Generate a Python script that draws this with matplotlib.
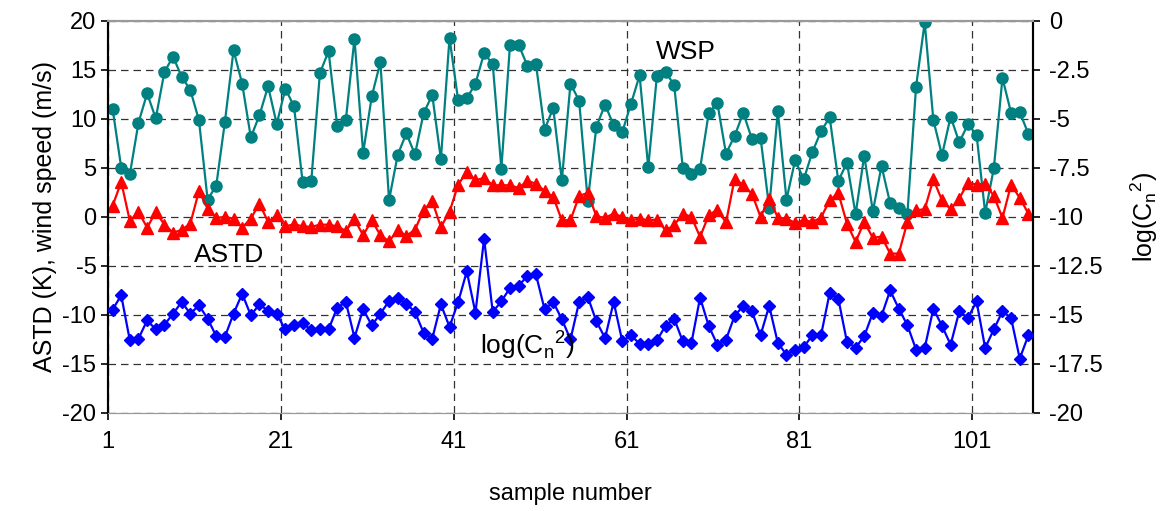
import matplotlib
matplotlib.use("Agg")
import matplotlib.pyplot as plt
import numpy as np

plt.rcParams['font.family'] = ['Liberation Sans', 'DejaVu Sans']

# sample numbers 1..107
samples = list(range(1, 108))

wsp = [11.05, 5.03, 4.35, 9.62, 12.6, 10.06, 14.8, 16.36, 14.3, 12.95,
       9.86, 1.77, 3.19, 9.69, 17.0, 13.6, 8.12, 10.37, 13.33, 9.49,
       13.09, 11.29, 3.53, 3.7, 14.69, 16.9, 9.32, 9.9, 18.2, 6.53,
       12.3, 15.8, 1.7, 6.32, 8.53, 6.38, 10.58, 12.45, 5.88, 18.27,
       11.9, 12.1, 13.6, 16.7, 15.6, 4.93, 17.58, 17.58, 15.44, 15.64,
       8.9, 11.12, 3.74, 13.6, 11.87, 1.63, 9.21, 11.46, 9.35, 8.67,
       11.53, 14.45, 5.06, 14.35, 14.8, 13.47, 5.03, 4.42, 4.93, 10.6,
       11.63, 6.46, 8.27, 10.61, 7.96, 8.09, 0.92, 10.78, 1.77, 5.78,
       3.84, 6.63, 8.74, 10.17, 3.67, 5.54, 0.27, 6.26, 0.57, 5.2,
       1.39, 0.95, 0.34, 13.3, 19.86, 9.9, 6.29, 10.23, 7.61, 9.45,
       8.4, 0.41, 4.96, 14.18, 10.61, 10.71, 8.47]

astd = [1.12, 3.57, -0.41, 0.51, -1.09, 0.51, -0.79, -1.6, -1.33, -0.68,
        2.65, 0.85, -0.1, 0.0, -0.17, -1.09, -0.17, 1.36, -0.51, 0.17,
        -0.96, -0.75, -0.96, -1.02, -0.79, -0.79, -0.96, -1.43, -0.24, -1.87,
        -0.34, -1.87, -2.49, -1.36, -1.94, -1.3, 0.68, 1.6, -1.02, 0.51,
        3.3, 4.59, 3.74, 3.98, 3.23, 3.23, 3.23, 2.96, 3.67, 3.4,
        2.65, 2.04, -0.34, -0.34, 2.14, 2.45, 0.07, -0.1, 0.34, 0.0,
        -0.34, -0.17, -0.34, -0.27, -1.36, -0.85, 0.34, 0.0, -2.04, 0.17,
        0.75, -0.56, 3.91, 3.23, 2.38, 0.0, 1.87, -0.07, -0.17, -0.61,
        -0.34, -0.51, -0.07, 1.7, 2.45, -0.68, -2.55, -0.51, -2.14, -2.0,
        -3.74, -3.74, -0.51, 0.68, 0.78, 3.84, 1.7, 0.78, 1.87, 3.5,
        3.3, 3.4, 2.14, -0.1, 3.3, 1.94, 0.34]

log_cn2 = [-14.73, -14.0, -16.3, -16.21, -15.28, -15.74, -15.5, -14.94, -14.34, -14.94,
           -14.51, -15.19, -16.09, -16.12, -14.94, -13.92, -15.02, -14.46, -14.8, -14.97,
           -15.74, -15.53, -15.4, -15.79, -15.7, -15.74, -14.63, -14.34, -16.16, -14.71,
           -15.53, -14.94, -14.29, -14.14, -14.43, -14.85, -15.91, -16.21, -14.46, -15.61,
           -14.34, -12.78, -14.89, -11.11, -14.85, -14.31, -13.62, -13.52, -13.01, -12.93,
           -14.71, -14.34, -15.22, -16.25, -14.34, -14.08, -15.33, -16.18, -14.34, -16.35,
           -16.04, -16.47, -16.47, -16.3, -15.56, -15.19, -16.35, -16.43, -14.12, -15.56,
           -16.52, -16.26, -15.05, -14.54, -14.82, -16.04, -14.54, -16.43, -17.03, -16.77,
           -16.64, -16.04, -16.04, -13.88, -14.17, -16.38, -16.67, -16.09, -14.89, -15.05,
           -13.75, -14.68, -15.53, -16.77, -16.69, -14.68, -15.56, -16.52, -14.82, -15.16,
           -14.31, -16.69, -15.74, -14.82, -15.16, -17.23, -16.04]

xtick_labels = ['1', '21', '41', '61', '81', '101']
left_ticks = [20, 15, 10, 5, 0, -5, -10, -15, -20]
right_ticks = [0, -2.5, -5, -7.5, -10, -12.5, -15, -17.5, -20]

fig = plt.figure(figsize=(11.64, 5.11), dpi=100)
ax = fig.add_axes([0.093, 0.192, 0.7942, 0.767])
ax2 = ax.twinx()

teal = '#008080'
ax.plot(samples, wsp, color=teal, lw=1.6, marker='o', ms=8, zorder=3)
ax.plot(samples, astd, color='#FF0000', lw=1.6, marker='^', ms=8.5, zorder=3)
ax2.plot(samples, log_cn2, color='#0000FF', lw=1.6, marker='D', ms=6.5, zorder=3)

ax.set_xlim(0.5, 107.5)
ax.set_ylim(-20, 20)
ax2.set_ylim(-20, 0)

xt = [0.5, 20.5, 40.5, 60.5, 80.5, 100.5]
ax.set_xticks(xt)
ax.set_xticklabels(xtick_labels)
ax.set_yticks(left_ticks)
ax.set_yticklabels([str(t) for t in left_ticks])
ax2.set_yticks(right_ticks)
ax2.set_yticklabels([('%g' % t) for t in right_ticks])

ax.grid(True, color='#333333', linestyle=(0, (6, 4)), linewidth=0.9)
ax.set_axisbelow(True)

fs = 17
ax.tick_params(axis='both', labelsize=fs, direction='out', length=5, width=1.2, color='black')
ax.tick_params(axis='x', pad=8)
ax2.tick_params(axis='y', labelsize=fs, direction='out', length=5, width=1.2, pad=7)

for a in (ax, ax2):
    a.spines['top'].set_color('#999999')
    a.spines['top'].set_linewidth(1.5)
    a.spines['bottom'].set_color('#999999')
    a.spines['left'].set_color('black')
    a.spines['right'].set_color('black')
    a.spines['left'].set_linewidth(1.5)
    a.spines['right'].set_linewidth(1.5)

ax.set_xlabel('sample number', fontsize=17, labelpad=22)
ax.set_ylabel('ASTD (K), wind speed (m/s)', fontsize=18, labelpad=4)
ax2.set_ylabel('log(C$_\\mathregular{n}$$^\\mathregular{2}$)', fontsize=18, labelpad=18)

ax.text(67.3, 16.8, 'WSP', fontsize=19, ha='center', va='center')
ax.text(14.5, -3.9, 'ASTD', fontsize=19, ha='center', va='center')
ax2.text(49.0, -16.5, 'log(C$_\\mathregular{n}$$^\\mathregular{2}$)', fontsize=19, ha='center', va='center')

fig.savefig('out.png', dpi=100)
